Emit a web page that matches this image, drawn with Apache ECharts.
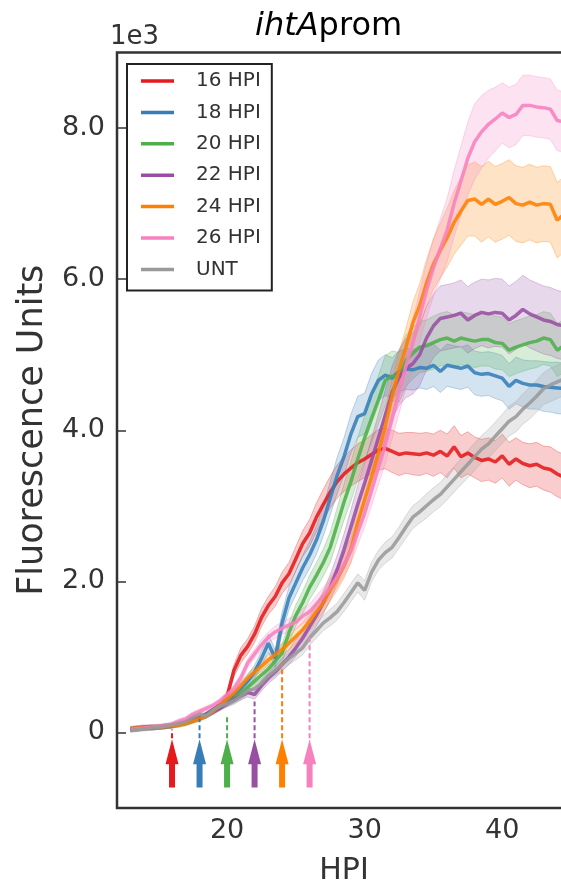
<!DOCTYPE html>
<html>
<head>
<meta charset="utf-8">
<script src="https://cdn.jsdelivr.net/npm/echarts@6/dist/echarts.min.js"></script>
<style>
  html, body { margin: 0; padding: 0; background: #fff; }
  #chart { width: 561px; height: 885px; }
</style>
</head>
<body>
<div id="chart"></div>
<script>
// Sampling times (hours post infection)
const hours = [13, 13.5, 14, 14.5, 15, 15.5, 16, 16.5, 17, 17.5, 18, 18.5, 19, 19.5,
  20, 20.5, 21, 21.5, 22, 22.5, 23, 23.5, 24, 24.5, 25, 25.5, 26, 26.5, 27, 27.5, 28, 28.5,
  29, 29.5, 30, 30.5, 31, 31.5, 32, 32.5, 33, 33.5, 34, 34.5, 35, 35.5, 36, 36.5, 37, 37.5,
  38, 38.5, 39, 39.5, 40, 40.5, 41, 41.5, 42, 42.5, 43, 43.5, 44, 44.5, 45];

const seriesNames = ['16 HPI', '18 HPI', '20 HPI', '22 HPI', '24 HPI', '26 HPI', 'UNT'];

// Mean fluorescence (x1e3) per condition
const hpi16 = [0.04, 0.05, 0.06, 0.07, 0.07, 0.08, 0.09, 0.12, 0.14, 0.17, 0.2, 0.24, 0.3, 0.37,
  0.48, 0.82, 1.02, 1.14, 1.3, 1.52, 1.68, 1.8, 1.98, 2.1, 2.3, 2.5, 2.64, 2.85, 3.02, 3.18, 3.32, 3.42,
  3.5, 3.57, 3.62, 3.68, 3.74, 3.76, 3.72, 3.68, 3.7, 3.69, 3.68, 3.7, 3.67, 3.72, 3.66, 3.78, 3.65, 3.7,
  3.64, 3.6, 3.62, 3.58, 3.66, 3.55, 3.62, 3.56, 3.53, 3.55, 3.5, 3.48, 3.42, 3.38, 3.35];
const hpi18 = [0.04, 0.05, 0.06, 0.07, 0.07, 0.08, 0.09, 0.11, 0.13, 0.16, 0.19, 0.24, 0.3, 0.36,
  0.42, 0.5, 0.58, 0.68, 0.8, 0.98, 1.18, 0.98, 1.45, 1.78, 1.98, 2.18, 2.35, 2.55, 2.8, 3.1, 3.4, 3.65,
  3.95, 4.18, 4.22, 4.48, 4.66, 4.73, 4.69, 4.78, 4.81, 4.8, 4.83, 4.82, 4.86, 4.78, 4.86, 4.84, 4.82, 4.85,
  4.76, 4.74, 4.75, 4.72, 4.69, 4.58, 4.66, 4.62, 4.6, 4.6, 4.58, 4.57, 4.56, 4.55, 4.55];
const hpi20 = [0.04, 0.05, 0.06, 0.06, 0.07, 0.08, 0.09, 0.1, 0.12, 0.15, 0.18, 0.22, 0.27, 0.33,
  0.4, 0.45, 0.52, 0.6, 0.68, 0.76, 0.84, 0.94, 1.05, 1.32, 1.55, 1.72, 1.92, 2.08, 2.25, 2.45, 2.75, 3.05,
  3.32, 3.62, 3.9, 4.15, 4.4, 4.66, 4.72, 4.7, 4.92, 5.02, 5.1, 5.12, 5.16, 5.2, 5.22, 5.18, 5.22, 5.2,
  5.18, 5.2, 5.2, 5.16, 5.15, 5.06, 5.1, 5.13, 5.16, 5.18, 5.22, 5.2, 5.06, 5.12, 5.12];
const hpi22 = [0.05, 0.06, 0.07, 0.06, 0.07, 0.08, 0.09, 0.11, 0.13, 0.16, 0.19, 0.22, 0.27, 0.32,
  0.38, 0.44, 0.48, 0.53, 0.5, 0.62, 0.72, 0.8, 0.9, 1.0, 1.12, 1.25, 1.4, 1.55, 1.72, 1.92, 2.15, 2.42,
  2.72, 3.02, 3.3, 3.6, 3.9, 4.2, 4.5, 4.7, 4.82, 4.88, 5.0, 5.22, 5.38, 5.48, 5.5, 5.52, 5.55, 5.46,
  5.52, 5.56, 5.54, 5.56, 5.55, 5.46, 5.52, 5.6, 5.54, 5.5, 5.46, 5.44, 5.4, 5.38, 5.36];
const hpi24 = [0.05, 0.06, 0.06, 0.07, 0.07, 0.08, 0.09, 0.1, 0.12, 0.15, 0.18, 0.22, 0.28, 0.36,
  0.45, 0.52, 0.62, 0.72, 0.8, 0.88, 0.96, 1.03, 1.1, 1.18, 1.27, 1.36, 1.47, 1.6, 1.72, 1.88, 2.03, 2.2,
  2.42, 2.78, 3.08, 3.38, 3.7, 4.05, 4.45, 4.8, 5.1, 5.42, 5.65, 5.95, 6.2, 6.38, 6.55, 6.75, 6.9, 7.04,
  7.06, 6.99, 7.06, 6.99, 7.03, 7.08, 7.0, 6.98, 7.02, 6.98, 7.0, 6.99, 6.78, 6.86, 6.88];
const hpi26 = [0.04, 0.05, 0.06, 0.07, 0.08, 0.09, 0.11, 0.15, 0.18, 0.24, 0.28, 0.32, 0.36, 0.42,
  0.5, 0.58, 0.72, 0.92, 1.04, 1.16, 1.26, 1.33, 1.38, 1.42, 1.46, 1.54, 1.6, 1.7, 1.8, 1.92, 2.06, 2.22,
  2.4, 2.65, 2.9, 3.2, 3.5, 3.8, 4.15, 4.5, 4.85, 5.15, 5.5, 5.85, 6.15, 6.4, 6.65, 7.0, 7.3, 7.6,
  7.82, 7.95, 8.05, 8.12, 8.2, 8.14, 8.18, 8.3, 8.3, 8.28, 8.27, 8.25, 8.1, 8.08, 8.05];
const untreated = [0.03, 0.04, 0.05, 0.06, 0.07, 0.08, 0.1, 0.12, 0.14, 0.2, 0.24, 0.22, 0.3, 0.35,
  0.38, 0.42, 0.48, 0.55, 0.58, 0.65, 0.75, 0.82, 0.9, 0.98, 1.05, 1.12, 1.25, 1.35, 1.45, 1.52, 1.6, 1.72,
  1.85, 1.98, 1.88, 2.12, 2.28, 2.38, 2.45, 2.58, 2.72, 2.85, 2.92, 3.0, 3.08, 3.15, 3.25, 3.35, 3.45, 3.55,
  3.65, 3.75, 3.82, 3.92, 4.02, 4.12, 4.18, 4.28, 4.36, 4.45, 4.55, 4.6, 4.64, 4.68, 4.7];

// Error half-widths (x1e3) for the shaded bands
const err16 = [0.03, 0.03, 0.03, 0.03, 0.03, 0.03, 0.03, 0.03, 0.03, 0.03, 0.03, 0.03, 0.03, 0.03,
  0.05, 0.08, 0.1, 0.1, 0.11, 0.12, 0.12, 0.13, 0.14, 0.15, 0.16, 0.17, 0.18, 0.19, 0.2, 0.21, 0.22, 0.23,
  0.24, 0.25, 0.25, 0.26, 0.27, 0.27, 0.28, 0.28, 0.27, 0.28, 0.28, 0.27, 0.28, 0.28, 0.29, 0.28, 0.28, 0.28,
  0.27, 0.28, 0.28, 0.28, 0.29, 0.29, 0.28, 0.28, 0.29, 0.29, 0.29, 0.3, 0.3, 0.3, 0.3];
const err18 = [0.03, 0.03, 0.03, 0.03, 0.03, 0.03, 0.03, 0.03, 0.03, 0.03, 0.03, 0.03, 0.03, 0.03,
  0.05, 0.06, 0.07, 0.08, 0.09, 0.1, 0.12, 0.12, 0.14, 0.15, 0.16, 0.17, 0.18, 0.19, 0.2, 0.22, 0.24, 0.25,
  0.26, 0.27, 0.27, 0.27, 0.27, 0.27, 0.27, 0.27, 0.27, 0.27, 0.27, 0.28, 0.28, 0.28, 0.28, 0.28, 0.28, 0.28,
  0.29, 0.29, 0.29, 0.3, 0.3, 0.3, 0.31, 0.31, 0.32, 0.32, 0.33, 0.33, 0.34, 0.34, 0.35];
const err20 = [0.03, 0.03, 0.03, 0.03, 0.03, 0.03, 0.03, 0.03, 0.03, 0.03, 0.03, 0.03, 0.03, 0.03,
  0.05, 0.06, 0.06, 0.07, 0.08, 0.09, 0.1, 0.1, 0.12, 0.13, 0.14, 0.15, 0.16, 0.17, 0.18, 0.2, 0.22, 0.24,
  0.26, 0.28, 0.3, 0.31, 0.32, 0.33, 0.33, 0.33, 0.34, 0.34, 0.34, 0.34, 0.35, 0.35, 0.35, 0.35, 0.35, 0.35,
  0.35, 0.35, 0.35, 0.35, 0.35, 0.35, 0.35, 0.35, 0.35, 0.35, 0.35, 0.35, 0.35, 0.35, 0.35];
const err22 = [0.03, 0.03, 0.03, 0.03, 0.03, 0.03, 0.03, 0.03, 0.03, 0.03, 0.03, 0.03, 0.03, 0.03,
  0.04, 0.05, 0.05, 0.06, 0.06, 0.07, 0.07, 0.08, 0.09, 0.1, 0.11, 0.12, 0.13, 0.14, 0.15, 0.17, 0.19, 0.21,
  0.23, 0.25, 0.27, 0.29, 0.31, 0.33, 0.35, 0.37, 0.39, 0.4, 0.41, 0.42, 0.42, 0.43, 0.43, 0.43, 0.44, 0.44,
  0.44, 0.44, 0.45, 0.45, 0.45, 0.45, 0.45, 0.45, 0.45, 0.45, 0.45, 0.45, 0.45, 0.45, 0.45];
const err24 = [0.03, 0.03, 0.03, 0.03, 0.03, 0.03, 0.03, 0.03, 0.03, 0.03, 0.03, 0.03, 0.03, 0.03,
  0.04, 0.05, 0.05, 0.06, 0.06, 0.07, 0.07, 0.08, 0.08, 0.09, 0.1, 0.1, 0.11, 0.12, 0.13, 0.14, 0.15, 0.16,
  0.17, 0.18, 0.19, 0.2, 0.21, 0.22, 0.23, 0.24, 0.25, 0.27, 0.29, 0.31, 0.33, 0.36, 0.39, 0.42, 0.45, 0.47,
  0.49, 0.5, 0.5, 0.5, 0.5, 0.5, 0.5, 0.5, 0.5, 0.5, 0.5, 0.5, 0.5, 0.5, 0.5];
const err26 = [0.03, 0.03, 0.03, 0.03, 0.03, 0.03, 0.03, 0.03, 0.03, 0.03, 0.03, 0.03, 0.03, 0.03,
  0.04, 0.05, 0.05, 0.06, 0.06, 0.07, 0.07, 0.08, 0.08, 0.09, 0.09, 0.1, 0.1, 0.11, 0.12, 0.13, 0.14, 0.15,
  0.16, 0.17, 0.18, 0.2, 0.22, 0.24, 0.26, 0.28, 0.3, 0.32, 0.34, 0.36, 0.38, 0.4, 0.42, 0.44, 0.46, 0.48,
  0.5, 0.48, 0.45, 0.42, 0.4, 0.4, 0.4, 0.4, 0.4, 0.4, 0.4, 0.4, 0.4, 0.4, 0.4];
const errUnt = [0.03, 0.03, 0.03, 0.03, 0.03, 0.03, 0.03, 0.03, 0.03, 0.03, 0.03, 0.03, 0.03, 0.03,
  0.04, 0.05, 0.05, 0.05, 0.06, 0.06, 0.07, 0.07, 0.08, 0.08, 0.09, 0.09, 0.1, 0.1, 0.1, 0.11, 0.11, 0.12,
  0.12, 0.12, 0.13, 0.13, 0.13, 0.14, 0.14, 0.14, 0.15, 0.15, 0.15, 0.16, 0.16, 0.16, 0.17, 0.17, 0.17, 0.18,
  0.18, 0.18, 0.19, 0.19, 0.19, 0.2, 0.2, 0.2, 0.21, 0.21, 0.21, 0.22, 0.22, 0.22, 0.22];

// Treatment time markers: HPI of each arrow and the height its dashed guide reaches
const markerHours = [16, 18, 20, 22, 24, 26];
const markerGuideTop = [0.04, 0.18, 0.24, 0.41, 0.9, 1.26];

// Axis tick values
const yTickValues = [0, 2, 4, 6, 8];
const xTickValues = [20, 30, 40];

const palette = ['#e41a1c', '#377eb8', '#4daf4a', '#984ea3', '#ff7f00', '#f781bf', '#999999'];
const means = [hpi16, hpi18, hpi20, hpi22, hpi24, hpi26, untreated];
const errs = [err16, err18, err20, err22, err24, err26, errUnt];

const ARROW_TIP = -0.09, ARROW_HEAD_BASE = -0.42, ARROW_BASE = -0.73;

const series = [];
means.forEach((vals, i) => {
  const color = palette[i];
  const e = errs[i];
  // shaded mean ± error band, drawn as one polygon through the axis scales
  series.push({
    type: 'custom', name: 'band-' + i, silent: true, z: 2, clip: true,
    data: [[hours[0], vals[0]]],
    renderItem: (params, api) => {
      const upper = vals.map((v, k) => api.coord([hours[k], v + e[k]]));
      const lower = vals.map((v, k) => api.coord([hours[k], v - e[k]])).reverse();
      return {
        type: 'polygon',
        shape: { points: upper.concat(lower) },
        style: {
          fill: echarts.color.modifyAlpha(color, 0.22),
          stroke: echarts.color.modifyAlpha(color, 0.3),
          lineWidth: 1
        }
      };
    }
  });
  series.push({
    type: 'line', name: seriesNames[i],
    data: vals.map((v, k) => [hours[k], v]),
    symbol: 'none', showSymbol: false,
    itemStyle: { color },
    lineStyle: { color, width: 3.5, opacity: 0.88 }, z: 3
  });
});

// Arrows with dashed guides marking each treatment time
series.push({
  type: 'custom', name: 'markers', silent: true, z: 4,
  data: markerHours.map((h, i) => [h, markerGuideTop[i], i]),
  renderItem: (params, api) => {
    const h = api.value(0);
    const c = palette[api.value(2)];
    const tip = api.coord([h, ARROW_TIP]);
    const hb = api.coord([h, ARROW_HEAD_BASE]);
    const base = api.coord([h, ARROW_BASE]);
    const top = api.coord([h, api.value(1)]);
    const x = tip[0];
    return {
      type: 'group',
      children: [
        { type: 'line', shape: { x1: x, y1: tip[1] - 1, x2: x, y2: top[1] },
          style: { stroke: c, lineWidth: 2, lineDash: [5, 3] } },
        { type: 'polygon', shape: { points: [
            [x, tip[1]], [x + 6.5, hb[1]], [x + 3, hb[1]], [x + 3, base[1]],
            [x - 3, base[1]], [x - 3, hb[1]], [x - 6.5, hb[1]] ] },
          style: { fill: c } }
      ]
    };
  }
});

const chart = echarts.init(document.getElementById('chart'), null, { renderer: 'canvas' });
chart.setOption({
  animation: false,
  backgroundColor: '#fff',
  grid: {
    left: 117, top: 52.5, right: -10, bottom: 77,
    outerBoundsMode: 'none', containLabel: false,
    show: true, borderColor: '#333', borderWidth: 2.5, backgroundColor: 'transparent'
  },
  xAxis: {
    type: 'value', min: 12, max: 45,
    name: 'HPI', nameLocation: 'middle', nameGap: 48,
    nameTextStyle: { fontFamily: 'DejaVu Sans', fontSize: 30, color: '#333' },
    axisLine: { show: false }, axisTick: { show: false }, splitLine: { show: false },
    axisLabel: {
      customValues: xTickValues, margin: 9,
      fontFamily: 'DejaVu Sans', fontSize: 27, color: '#333'
    }
  },
  yAxis: {
    type: 'value', min: -1, max: 9,
    name: 'Fluorescence Units', nameLocation: 'middle', nameGap: 67,
    nameTextStyle: { fontFamily: 'DejaVu Sans', fontSize: 35, color: '#333' },
    axisLine: { show: false }, splitLine: { show: false },
    axisTick: { show: true, inside: true, length: 9, customValues: yTickValues,
      lineStyle: { color: '#333', width: 1.5 } },
    axisLabel: {
      customValues: yTickValues, margin: 12,
      fontFamily: 'DejaVu Sans', fontSize: 27, color: '#333',
      formatter: v => (v === 0 ? '0' : v.toFixed(1))
    }
  },
  legend: {
    data: seriesNames, orient: 'vertical', left: 127, top: 64,
    icon: 'rect', itemWidth: 33, itemHeight: 3.5, itemGap: 11.4,
    padding: [7, 11, 11, 14],
    borderColor: '#222', borderWidth: 2, borderRadius: 0, backgroundColor: '#fff',
    textStyle: { fontFamily: 'DejaVu Sans', fontSize: 20, lineHeight: 20, color: '#333',
      padding: [0, 0, 0, 17] },
    selectedMode: false
  },
  graphic: [
    { type: 'text', left: 255, top: 11, z: 10,
      style: { text: '{i|ihtA}{n|prom}', fill: '#000',
        font: '32px "DejaVu Sans"',
        rich: { i: { fontStyle: 'italic', fontSize: 32, fontFamily: 'DejaVu Sans' },
                n: { fontSize: 32, fontFamily: 'DejaVu Sans' } } } },
    { type: 'text', left: 110, top: 24, z: 10,
      style: { text: '1e3', fill: '#333', font: '26px "DejaVu Sans"' } }
  ],
  series
});
</script>
</body>
</html>
